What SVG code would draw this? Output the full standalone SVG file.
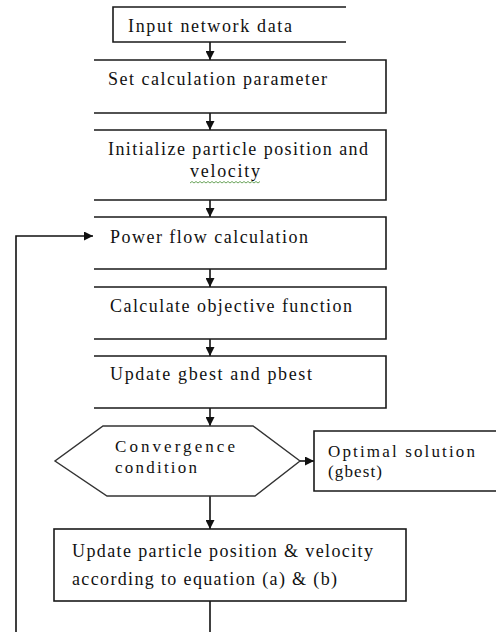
<svg xmlns="http://www.w3.org/2000/svg" width="496" height="632" viewBox="0 0 496 632">
<defs>
<style>
.box{fill:none;stroke:#1a1a1a;stroke-width:1.6}
.hex{fill:#fff;stroke:#333;stroke-width:1.4}
.conn{fill:none;stroke:#111;stroke-width:1.6}
.t{font-family:"Liberation Serif","Times New Roman",serif;font-size:18px;fill:#111}
.s{font-size:17px}
</style>
<marker id="ah" viewBox="0 0 10 10" refX="10" refY="5" markerWidth="9" markerHeight="9" markerUnits="userSpaceOnUse" orient="auto">
<path d="M0,0 L10,5 L0,10 z" fill="#111"/>
</marker>
</defs>
<rect width="496" height="632" fill="#fff"/>
<g id="connectors">
<line class="conn" x1="210" y1="42" x2="210" y2="60" marker-end="url(#ah)"/>
<line class="conn" x1="210" y1="113" x2="210" y2="130" marker-end="url(#ah)"/>
<line class="conn" x1="210" y1="200" x2="210" y2="217" marker-end="url(#ah)"/>
<line class="conn" x1="210" y1="269" x2="210" y2="287" marker-end="url(#ah)"/>
<line class="conn" x1="210" y1="339" x2="210" y2="356" marker-end="url(#ah)"/>
<line class="conn" x1="210" y1="408" x2="210" y2="426" marker-end="url(#ah)"/>
<line class="conn" x1="210" y1="496" x2="210" y2="529" marker-end="url(#ah)"/>
<line class="conn" x1="300" y1="461" x2="314" y2="461" marker-end="url(#ah)"/>
<line class="conn" x1="210" y1="601" x2="210" y2="632"/>
<path class="conn" d="M16,632 V236 H93" marker-end="url(#ah)"/>
</g>
<g id="n1">
<path class="box" d="M346,7 H113 V42 H346"/>
<text class="t" x="128" y="32" textLength="164" lengthAdjust="spacing">Input network data</text>
</g>
<g id="n2">
<path class="box" d="M94,60 H386 V113 H94"/>
<text class="t" x="108" y="85" textLength="219" lengthAdjust="spacing">Set calculation parameter</text>
</g>
<g id="n3">
<path class="box" d="M94,130 H386 V200 H94"/>
<text class="t" x="108" y="155" textLength="260" lengthAdjust="spacing">Initialize particle position and</text>
<text class="t" x="190" y="177" textLength="70" lengthAdjust="spacing">velocity</text>
<path d="M190,183 l2,-1.5 l2,1.5 l2,-1.5 l2,1.5 l2,-1.5 l2,1.5 l2,-1.5 l2,1.5 l2,-1.5 l2,1.5 l2,-1.5 l2,1.5 l2,-1.5 l2,1.5 l2,-1.5 l2,1.5 l2,-1.5 l2,1.5 l2,-1.5 l2,1.5 l2,-1.5 l2,1.5 l2,-1.5 l2,1.5 l2,-1.5 l2,1.5 l2,-1.5 l2,1.5 l2,-1.5 l2,1.5 l2,-1.5 l2,1.5 l2,-1.5 l2,1.5 l2,-1.5" fill="none" stroke="#5a9a4a" stroke-width="0.9"/>
</g>
<g id="n4">
<path class="box" d="M94,217 H386 V269 H94"/>
<text class="t" x="110" y="243" textLength="198" lengthAdjust="spacing">Power flow calculation</text>
</g>
<g id="n5">
<path class="box" d="M94,287 H386 V339 H94"/>
<text class="t" x="110" y="312" textLength="242" lengthAdjust="spacing">Calculate objective function</text>
</g>
<g id="n6">
<path class="box" d="M94,356 H386 V408 H94"/>
<text class="t" x="110" y="380" textLength="202" lengthAdjust="spacing">Update gbest and pbest</text>
</g>
<g id="n7">
<polygon class="hex" points="103,426 253,426 300,461 255,496 107,496 55,461"/>
<text class="t s" x="115" y="452" textLength="120" lengthAdjust="spacing">Convergence</text>
<text class="t s" x="115" y="473" textLength="82" lengthAdjust="spacing">condition</text>
</g>
<g id="n8">
<path class="box" d="M497,431 H314 V491 H497"/>
<text class="t s" x="328" y="457" textLength="147" lengthAdjust="spacing">Optimal solution</text>
<text class="t s" x="328" y="477" textLength="54" lengthAdjust="spacing">(gbest)</text>
</g>
<g id="n9">
<rect class="box" x="54" y="529" width="352" height="72"/>
<text class="t" x="72" y="557" textLength="301" lengthAdjust="spacing">Update particle position &amp; velocity</text>
<text class="t" x="72" y="585" textLength="265" lengthAdjust="spacing">according to equation (a) &amp; (b)</text>
</g>
</svg>
